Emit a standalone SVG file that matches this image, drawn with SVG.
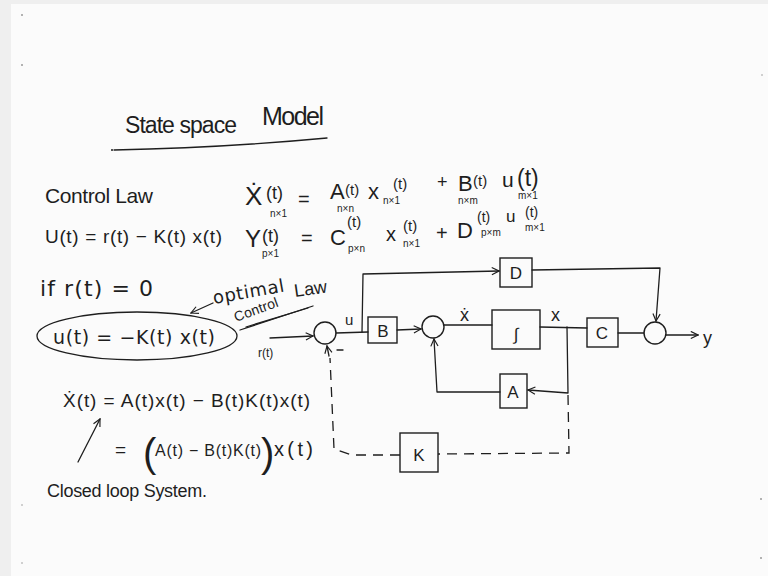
<svg xmlns="http://www.w3.org/2000/svg" width="768" height="576" viewBox="0 0 768 576">
  <defs>
    <marker id="arr" viewBox="0 0 10 10" refX="9" refY="5" markerWidth="9" markerHeight="9" markerUnits="userSpaceOnUse" orient="auto">
      <path d="M1,1 L9,5 L1,9" fill="none" stroke="#1e1e1e" stroke-width="1.3"/>
    </marker>
    <style>
      .ink { fill: #1e1e1e; font-family: "Liberation Sans", "DejaVu Sans", sans-serif; }
      .wide { fill: #1e1e1e; font-family: "DejaVu Sans", "Liberation Sans", sans-serif; }
      .sub { fill: #1e1e1e; font-family: "Liberation Sans", "DejaVu Sans", sans-serif; font-size: 10px; }
      .line { fill: none; stroke: #1e1e1e; stroke-width: 1.3; stroke-linecap: round; stroke-linejoin: round; }
      .dash { fill: none; stroke: #1e1e1e; stroke-width: 1.3; stroke-dasharray: 10 7; }
      .box { fill: none; stroke: #1e1e1e; stroke-width: 1.4; }
      .lbl { fill: #1e1e1e; font-family: "Liberation Sans", "DejaVu Sans", sans-serif; font-size: 17px; text-anchor: middle; }
      .speck { fill: #9a9a9a; }
    </style>
  </defs>

  <!-- board and frame -->
  <rect x="0" y="0" width="768" height="576" fill="#efefef"/>
  <rect x="11" y="4" width="757" height="572" fill="#fbfbfb"/>
  <circle class="speck" cx="22" cy="15" r="1"/>
  <circle class="speck" cx="22" cy="65" r="1"/>
  <circle class="speck" cx="22" cy="505" r="0.8"/>
  <circle class="speck" cx="22" cy="563" r="0.8"/>
  <circle class="speck" cx="761" cy="499" r="1"/>
  <circle class="speck" cx="761" cy="558" r="1"/>
  <circle class="speck" cx="762" cy="75" r="0.8"/>

  <!-- title -->
  <text class="ink" x="125" y="133" font-size="23" textLength="112" lengthAdjust="spacing">State space</text>
  <text class="ink" x="262" y="125" font-size="25" textLength="62" lengthAdjust="spacing">Model</text>
  <path class="line" d="M114,150 Q220,148 327,138"/>
  <circle cx="112" cy="150" r="1" fill="#1e1e1e"/>

  <!-- control law -->
  <text class="ink" x="45" y="203" font-size="21" textLength="108" lengthAdjust="spacing">Control Law</text>
  <text class="ink" x="45" y="243" font-size="19" textLength="177" lengthAdjust="spacing">U(t) = r(t) − K(t) x(t)</text>

  <!-- state equation -->
  <text class="ink" x="245" y="205" font-size="26">Ẋ</text>
  <text class="ink" x="266" y="199" font-size="18">(t)</text>
  <text class="sub" x="270" y="217">n×1</text>
  <text class="ink" x="298" y="206" font-size="20">=</text>
  <text class="ink" x="330" y="199" font-size="22">A</text>
  <text class="ink" x="345" y="195" font-size="15">(t)</text>
  <text class="sub" x="337" y="212">n×n</text>
  <text class="ink" x="368" y="199" font-size="22">x</text>
  <text class="sub" x="383" y="204">n×1</text>
  <text class="ink" x="393" y="189" font-size="15">(t)</text>
  <text class="ink" x="437" y="188" font-size="18">+</text>
  <text class="ink" x="458" y="191" font-size="22">B</text>
  <text class="ink" x="473" y="186" font-size="15">(t)</text>
  <text class="sub" x="458" y="204">n×m</text>
  <text class="ink" x="502" y="187" font-size="21">u</text>
  <text class="ink" x="517" y="186" font-size="23">(t)</text>
  <text class="sub" x="518" y="199">m×1</text>

  <!-- output equation -->
  <text class="ink" x="245" y="247" font-size="24">Y</text>
  <text class="ink" x="262" y="242" font-size="18">(t)</text>
  <text class="sub" x="262" y="257">p×1</text>
  <text class="ink" x="301" y="245" font-size="20">=</text>
  <text class="ink" x="330" y="245" font-size="22">C</text>
  <text class="ink" x="347" y="227" font-size="15">(t)</text>
  <text class="sub" x="348" y="252">p×n</text>
  <text class="ink" x="386" y="241" font-size="20">x</text>
  <text class="ink" x="403" y="231" font-size="15">(t)</text>
  <text class="sub" x="403" y="247">n×1</text>
  <text class="ink" x="436" y="240" font-size="20">+</text>
  <text class="ink" x="457" y="238" font-size="22">D</text>
  <text class="ink" x="477" y="222" font-size="14">(t)</text>
  <text class="sub" x="481" y="236">p×m</text>
  <text class="ink" x="506" y="222" font-size="17">u</text>
  <text class="ink" x="525" y="217" font-size="14">(t)</text>
  <text class="sub" x="525" y="231">m×1</text>

  <!-- zero reference case -->
  <text class="wide" x="40" y="296" font-size="22" textLength="113" lengthAdjust="spacing">if r(t) = 0</text>
  <ellipse class="line" cx="137" cy="336" rx="100" ry="24"/>
  <text class="wide" x="53" y="344" font-size="19" textLength="162" lengthAdjust="spacing">u(t) = −K(t) x(t)</text>
  <path class="line" d="M213,303 L191,313" marker-end="url(#arr)"/>
  <text class="wide" x="214" y="304" font-size="18" transform="rotate(-10 214 304)" textLength="72" lengthAdjust="spacing">optimal</text>
  <text class="ink" x="295" y="297" font-size="18" transform="rotate(-8 295 297)">Law</text>
  <text class="ink" x="236" y="322" font-size="14" transform="rotate(-20 236 322)" textLength="46" lengthAdjust="spacing">Control</text>
  <path class="line" d="M240,330 L313,306"/>
  <path class="line" d="M246,327 L308,308"/>

  <!-- connectors -->
  <g id="connectors">
    <path class="line" d="M270,338 L313,336" marker-end="url(#arr)"/>
    <path class="line" d="M336,333 L368,332"/>
    <path class="line" d="M362,332 L363,274 L499,271" marker-end="url(#arr)"/>
    <path class="line" d="M397,330 L421,329" marker-end="url(#arr)"/>
    <path class="line" d="M444,325 L492,325"/>
    <path class="line" d="M540,327 L587,328"/>
    <path class="line" d="M567,327 L568,393 L528,390" marker-end="url(#arr)"/>
    <path class="line" d="M500,392 L437,392 L434,339" marker-end="url(#arr)"/>
    <path class="line" d="M618,333 L644,333"/>
    <path class="line" d="M532,270 L660,268 L656,321" marker-end="url(#arr)"/>
    <path class="line" d="M666,335 L698,335" marker-end="url(#arr)"/>
    <path class="dash" d="M568,395 L569,453 L438,454"/>
    <path class="dash" d="M400,455 L352,455 L334,449 L330,358"/>
    <path class="line" d="M329,356 L327,346" marker-end="url(#arr)"/>
  </g>

  <!-- signal labels -->
  <text class="ink" x="258" y="357" font-size="12">r(t)</text>
  <text class="ink" x="345" y="325" font-size="15">u</text>
  <path class="line" d="M337,350 L343,350"/>
  <text class="ink" x="460" y="321" font-size="18">ẋ</text>
  <text class="ink" x="551" y="321" font-size="18">x</text>
  <text class="ink" x="703" y="344" font-size="18">y</text>

  <!-- blocks -->
  <g id="sum-input"><circle class="box" cx="325" cy="333" r="11"/></g>
  <g id="block-B"><rect class="box" x="368" y="317" width="29" height="26"/><text class="lbl" x="383" y="337">B</text></g>
  <g id="sum-state"><circle class="box" cx="433" cy="327" r="11"/></g>
  <g id="block-integrator"><rect class="box" x="492" y="310" width="48" height="39"/><text class="lbl" x="516" y="340" font-size="27">∫</text></g>
  <g id="block-C"><rect class="box" x="587" y="318" width="31" height="29"/><text class="lbl" x="602" y="339" font-size="19">C</text></g>
  <g id="sum-output"><circle class="box" cx="655" cy="333" r="11"/></g>
  <g id="block-D"><rect class="box" x="500" y="258" width="32" height="29"/><text class="lbl" x="516" y="279">D</text></g>
  <g id="block-A"><rect class="box" x="500" y="374" width="27" height="34"/><text class="lbl" x="513" y="398">A</text></g>
  <g id="block-K"><rect class="box" x="400" y="433" width="38" height="39"/><text class="lbl" x="419" y="461" font-size="20">K</text></g>

  <!-- closed loop derivation -->
  <text class="ink" x="63" y="407" font-size="19" textLength="247" lengthAdjust="spacing">Ẋ(t) = A(t)x(t) − B(t)K(t)x(t)</text>
  <path class="line" d="M78,462 L100,419" marker-end="url(#arr)"/>
  <text class="ink" x="115" y="456" font-size="19">=</text>
  <text class="ink" x="143" y="467" font-size="40">(</text>
  <text class="ink" x="155" y="456" font-size="16" textLength="106" lengthAdjust="spacing">A(t) − B(t)K(t)</text>
  <text class="ink" x="261" y="467" font-size="40">)</text>
  <text class="ink" x="274" y="456" font-size="20" textLength="39" lengthAdjust="spacing">x(t)</text>
  <text class="ink" x="47" y="497" font-size="18" textLength="160" lengthAdjust="spacing">Closed loop System.</text>
</svg>
